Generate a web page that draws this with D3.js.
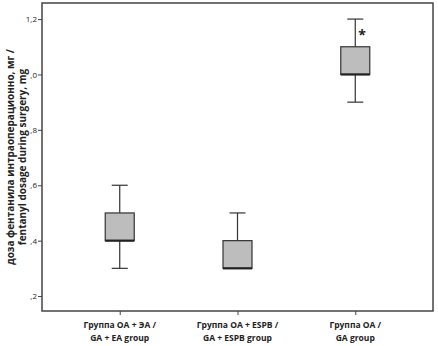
<!DOCTYPE html>
<html>
<head>
<meta charset="utf-8">
<script src="https://cdn.jsdelivr.net/npm/d3@7"></script>
<style>
  body { margin: 0; background: #fff; }
  text { font-family: "Open Sans", sans-serif; }
</style>
</head>
<body>
<svg width="438" height="346"></svg>
<script>
var groups = [
    ["Группа ОА + ЭА /", "GA + EA group"],
    ["Группа ОА + ESPB /", "GA + ESPB group"],
    ["Группа ОА /", "GA group"]
]
var whiskerLow = [0.3, 0.3, 0.9]
var q1 = [0.4, 0.3, 1.0]
var medians = [0.4, 0.3, 1.0]
var q3 = [0.5, 0.4, 1.1]
var whiskerHigh = [0.6, 0.5, 1.2]
var yTicks = [0.2, 0.4, 0.6, 0.8, 1.0, 1.2]
var yTickLabels = [",2", ",4", ",6", ",8", ",0", "1,2"]

var svg = d3.select("svg")
var plotLeft = 42, plotRight = 433, plotTop = 3, plotBottom = 311

var x = d3.scalePoint()
    .domain(d3.range(groups.length))
    .range([plotLeft, plotRight])
    .padding(0.66)

var y = d3.scaleLinear()
    .domain([0.146, 1.258])
    .range([plotBottom, plotTop])

var data = groups.map(function (g, i) {
    return { i: i, lo: whiskerLow[i], q1: q1[i], med: medians[i], q3: q3[i], hi: whiskerHigh[i] }
})

// frame
svg.append("rect")
    .attr("x", plotLeft).attr("y", plotTop)
    .attr("width", plotRight - plotLeft).attr("height", plotBottom - plotTop)
    .attr("fill", "none").attr("stroke", "#444").attr("stroke-width", 1.5)

// y axis
var yAxis = svg.append("g")
    .attr("transform", "translate(" + plotLeft + ",0)")
    .call(d3.axisLeft(y).tickValues(yTicks).tickSize(4).tickPadding(1)
        .tickFormat(function (d, i) { return yTickLabels[i] }))
yAxis.select(".domain").remove()
yAxis.selectAll("line").attr("stroke", "#444")
yAxis.selectAll("text").attr("font-size", 8).attr("fill", "#222")
    .style("font-family", "Open Sans, sans-serif")

// x axis ticks
var xAxis = svg.append("g")
    .attr("transform", "translate(0," + plotBottom + ")")
    .call(d3.axisBottom(x).tickSize(4).tickFormat(""))
xAxis.select(".domain").remove()
xAxis.selectAll("line").attr("stroke", "#444")

// x labels
var lab = svg.append("g").selectAll("text")
    .data(groups)
    .join("text")
    .attr("text-anchor", "middle")
    .attr("font-size", 8.5)
    .attr("font-weight", "bold")
    .attr("fill", "#222")
lab.each(function (d, i) {
    var t = d3.select(this)
    d.forEach(function (line, k) {
        t.append("tspan")
            .attr("x", x(i))
            .attr("y", 328 + k * 13)
            .text(line)
    })
})

// y title
var title = svg.append("text")
    .attr("transform", "translate(14,157) rotate(-90)")
    .attr("text-anchor", "middle")
    .attr("font-size", 10)
    .attr("font-weight", "bold")
    .attr("fill", "#222")
title.append("tspan").attr("x", 0).attr("y", 0).text("доза фентанила интраоперационно, мг /")
title.append("tspan").attr("x", 0).attr("y", 11.5).text("fentanyl dosage during surgery, mg")

// boxes
var boxW = 29, capW = 16
var b = svg.append("g").selectAll("g")
    .data(data)
    .join("g")

b.append("line")
    .attr("x1", d => x(d.i)).attr("x2", d => x(d.i))
    .attr("y1", d => y(d.lo)).attr("y2", d => y(d.hi))
    .attr("stroke", "#333").attr("stroke-width", 1.2)

b.selectAll(".cap")
    .data(d => [{ i: d.i, v: d.lo }, { i: d.i, v: d.hi }])
    .join("line")
    .attr("class", "cap")
    .attr("x1", d => x(d.i) - capW / 2).attr("x2", d => x(d.i) + capW / 2)
    .attr("y1", d => y(d.v)).attr("y2", d => y(d.v))
    .attr("stroke", "#333").attr("stroke-width", 1.2)

b.append("rect")
    .attr("x", d => x(d.i) - boxW / 2)
    .attr("y", d => y(d.q3))
    .attr("width", boxW)
    .attr("height", d => y(d.q1) - y(d.q3))
    .attr("fill", "#bdbdbd")
    .attr("stroke", "#333").attr("stroke-width", 1.2)

b.append("line")
    .attr("x1", d => x(d.i) - boxW / 2).attr("x2", d => x(d.i) + boxW / 2)
    .attr("y1", d => y(d.med)).attr("y2", d => y(d.med))
    .attr("stroke", "#222").attr("stroke-width", 2.2)

// significance mark
svg.append("text")
    .attr("x", x(2) + 3)
    .attr("y", y(1.12) - 1)
    .attr("font-size", 14)
    .attr("font-weight", "bold")
    .attr("fill", "#222")
    .text("*")
</script>
</body>
</html>
